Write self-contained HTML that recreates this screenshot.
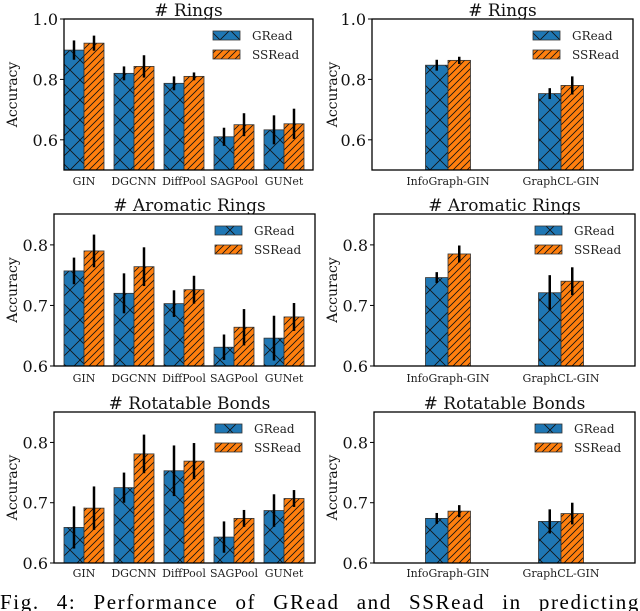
<!DOCTYPE html>
<html><head><meta charset="utf-8"><style>
html,body{margin:0;padding:0;background:#fff;}
svg{display:block;font-family:"DejaVu Serif","Liberation Serif",serif;}
</style></head><body>
<svg id="fig" width="640" height="611" viewBox="0 0 640 611" xmlns="http://www.w3.org/2000/svg">
<defs>
<pattern id="hx" patternUnits="userSpaceOnUse" width="20" height="20">
<rect width="20" height="20" fill="#1f77b4"/>
<path d="M0,0L20,20M20,0L0,20" stroke="#111" stroke-width="0.8"/>
</pattern>
<pattern id="hs" patternUnits="userSpaceOnUse" width="7" height="7">
<rect width="7" height="7" fill="#ff7f0e"/>
<path d="M-1,8L8,-1M-2,2L2,-2M5,9L9,5" stroke="#111" stroke-width="0.8"/>
</pattern>
</defs>
<g id="cap" font-family="Liberation Serif, serif" font-size="21" letter-spacing="1.6">
<text x="0" y="609">Fig.</text><text x="0" y="609">4:</text><text x="0" y="609">Performance</text><text x="0" y="609">of</text><text x="0" y="609">GRead</text><text x="0" y="609">and</text><text x="0" y="609">SSRead</text><text x="0" y="609">in</text><text x="0" y="609">predicting</text>
</g>
</svg>
<script>
const leftCats = ["GIN","DGCNN","DiffPool","SAGPool","GUNet"];
const rightCats = ["InfoGraph-GIN","GraphCL-GIN"];
const ringsL_g = [0.897,0.820,0.787,0.610,0.633];
const ringsL_gErr = [0.032,0.023,0.023,0.030,0.048];
const ringsL_s = [0.920,0.843,0.810,0.650,0.653];
const ringsL_sErr = [0.025,0.037,0.013,0.038,0.050];
const ringsR_g = [0.847,0.753];
const ringsR_gErr = [0.018,0.018];
const ringsR_s = [0.863,0.780];
const ringsR_sErr = [0.012,0.030];
const aromL_g = [0.757,0.720,0.703,0.631,0.646];
const aromL_gErr = [0.022,0.033,0.022,0.021,0.037];
const aromL_s = [0.790,0.764,0.726,0.664,0.681];
const aromL_sErr = [0.027,0.032,0.023,0.030,0.023];
const aromR_g = [0.746,0.721];
const aromR_gErr = [0.009,0.029];
const aromR_s = [0.785,0.740];
const aromR_sErr = [0.014,0.023];
const rotL_g = [0.659,0.725,0.753,0.643,0.687];
const rotL_gErr = [0.035,0.025,0.042,0.026,0.027];
const rotL_s = [0.691,0.781,0.769,0.674,0.707];
const rotL_sErr = [0.036,0.032,0.030,0.014,0.014];
const rotR_g = [0.674,0.669];
const rotR_gErr = [0.009,0.020];
const rotR_s = [0.686,0.682];
const rotR_sErr = [0.010,0.018];
const ticksTop = [0.6,0.8,1.0];
const ticksOther = [0.6,0.7,0.8];
const titles = ["# Rings","# Aromatic Rings","# Rotatable Bonds"];

const NS="http://www.w3.org/2000/svg";
const svg=document.getElementById('fig');
function mk(tag,attrs,parent){const e=document.createElementNS(NS,tag);for(const k in attrs)e.setAttribute(k,attrs[k]);(parent||svg).appendChild(e);return e;}

const panels=[
 {name:"rings-left",L:64,R:313,T:19,B:170,ymin:0.5,ymax:1.0,ticks:ticksTop,cats:leftCats,g:ringsL_g,ge:ringsL_gErr,s:ringsL_s,se:ringsL_sErr,title:titles[0],c0:84,step:50,w:20,xl:185},
 {name:"rings-right",L:372,R:633,T:19,B:170,ymin:0.5,ymax:1.0,ticks:ticksTop,cats:rightCats,g:ringsR_g,ge:ringsR_gErr,s:ringsR_s,se:ringsR_sErr,title:titles[0],c0:448,step:113,w:22.5,xl:185},
 {name:"aromatic-left",L:54,R:315,T:214,B:366,ymin:0.6,ymax:0.851,ticks:ticksOther,cats:leftCats,g:aromL_g,ge:aromL_gErr,s:aromL_s,se:aromL_sErr,title:titles[1],c0:84,step:50,w:20,xl:382},
 {name:"aromatic-right",L:374,R:635,T:214,B:366,ymin:0.6,ymax:0.851,ticks:ticksOther,cats:rightCats,g:aromR_g,ge:aromR_gErr,s:aromR_s,se:aromR_sErr,title:titles[1],c0:448,step:113,w:22.5,xl:382},
 {name:"rotatable-left",L:54,R:315,T:412,B:563,ymin:0.6,ymax:0.8505,ticks:ticksOther,cats:leftCats,g:rotL_g,ge:rotL_gErr,s:rotL_s,se:rotL_sErr,title:titles[2],c0:84,step:50,w:20,xl:577},
 {name:"rotatable-right",L:374,R:635,T:412,B:563,ymin:0.6,ymax:0.8505,ticks:ticksOther,cats:rightCats,g:rotR_g,ge:rotR_gErr,s:rotR_s,se:rotR_sErr,title:titles[2],c0:448,step:113,w:22.5,xl:577}
];

panels.forEach(p=>{
  const grp=mk('g',{});
  
  
  const y=v=>p.B-(v-p.ymin)/(p.ymax-p.ymin)*(p.B-p.T);
  const x=i=>p.c0+p.step*i;
  const series=[[p.g,p.ge,'url(#hx)','gread'],[p.s,p.se,'url(#hs)','ssread']];
  p.cats.forEach((c,i)=>{
    series.forEach((sr,k)=>{
      const v=sr[0][i],e=sr[1][i];
      const x0=x(i)-p.w+k*p.w;
      const r=mk('rect',{x:x0,y:y(v),width:p.w,height:p.B-y(v),fill:sr[2],stroke:'#333','stroke-width':0.8},grp);
      
      
      const eb=mk('line',{x1:x0+p.w/2,x2:x0+p.w/2,y1:y(v+e),y2:Math.min(y(v-e),p.B),stroke:'#000','stroke-width':2.5},grp);
      
      
    });
    const t=mk('text',{x:x(i),y:p.xl,'font-size':11,'text-anchor':'middle',fill:'#222'},grp);
    t.textContent=c;
    
    
  });
  const fr=mk('rect',{x:p.L,y:p.T,width:p.R-p.L,height:p.B-p.T,fill:'none',stroke:'#000','stroke-width':1.3},grp);
  
  
  p.ticks.forEach(tv=>{
    mk('line',{x1:p.L-4,x2:p.L,y1:y(tv),y2:y(tv),stroke:'#000','stroke-width':1},grp);
    const t=mk('text',{x:p.L-6,y:y(tv)+6,'font-size':16,'text-anchor':'end',fill:'#111'},grp);
    t.textContent=tv.toFixed(1);
    
    
  });
  const yx=(p.L<200?0:320)+17;
  const yl=mk('text',{x:0,y:0,'font-size':14,'text-anchor':'middle',fill:'#111',transform:`translate(${yx},${(p.T+p.B)/2}) rotate(-90)`},grp);
  yl.textContent='Accuracy';
  
  
  const ti=mk('text',{x:(p.L+p.R)/2+(p.L<100?(64-p.L)/2:0),y:p.T-3,'font-size':17,'text-anchor':'middle',fill:'#111'},grp);
  ti.textContent=p.title;
  
  
  const lx=p.R-100, ly=p.T+12;
  [['GRead','url(#hx)'],['SSRead','url(#hs)']].forEach((it,k)=>{
    const lr=mk('rect',{x:lx,y:ly+k*19,width:27,height:9,fill:it[1],stroke:'#333','stroke-width':0.8},grp);
    
    
    const lt=mk('text',{x:lx+39,y:ly+k*19+9,'font-size':12,fill:'#222'},grp);
    lt.textContent=it[0];
    
    
  });
});
// justify caption words
const words=[...document.querySelectorAll('#cap text')];
const widths=words.map(w=>w.getComputedTextLength());
const total=widths.reduce((a,b)=>a+b,0);
const gap=(640-total)/(words.length-1);
let cx=0;
words.forEach((w,i)=>{w.setAttribute('x',cx);cx+=widths[i]+gap;});
</script>
</body></html>
